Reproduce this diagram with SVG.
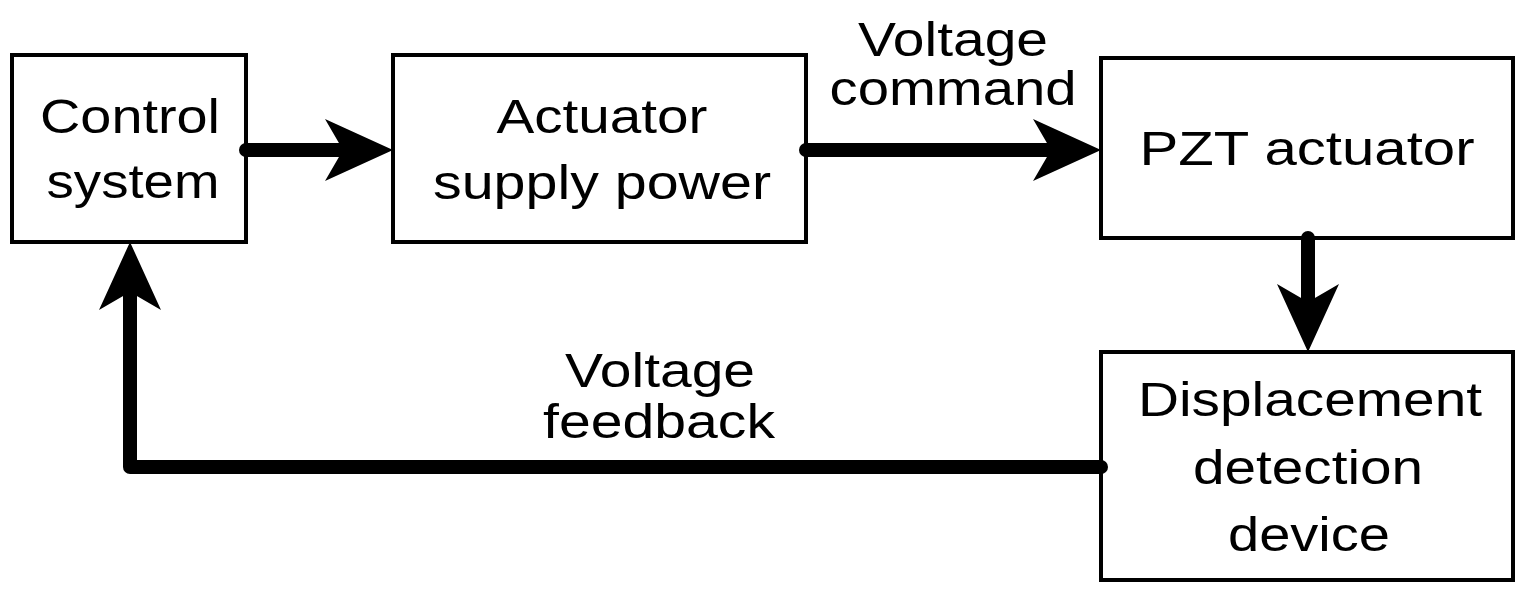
<svg xmlns="http://www.w3.org/2000/svg" xmlns:xlink="http://www.w3.org/1999/xlink" width="1534" height="600" viewBox="0 0 1534 600">
<style>
.box{fill:#fff;stroke:#000;stroke-width:4}
.t{font-family:"Liberation Sans",Arial,sans-serif;font-size:48px;text-anchor:middle;fill:#000}
.ln{stroke:#000;stroke-width:14;fill:none;stroke-linejoin:round}
</style>
<defs>
<path id="ah" d="M0,0 L-68,-31 L-50,0 L-68,31 Z" fill="#000"/>
</defs>
<rect width="1534" height="600" fill="#fff"/>
<g id="control">
<rect class="box" x="12" y="55" width="234" height="187"/>
<text class="t" x="130" y="133" textLength="180" lengthAdjust="spacingAndGlyphs">Control</text>
<text class="t" x="133" y="198" textLength="173" lengthAdjust="spacingAndGlyphs">system</text>
</g>
<g id="supply">
<rect class="box" x="393" y="55" width="413" height="187"/>
<text class="t" x="602" y="133" textLength="211" lengthAdjust="spacingAndGlyphs">Actuator</text>
<text class="t" x="602" y="199" textLength="338" lengthAdjust="spacingAndGlyphs">supply power</text>
</g>
<g id="pzt">
<rect class="box" x="1101" y="58" width="412" height="180"/>
<text class="t" x="1307" y="165" textLength="335" lengthAdjust="spacingAndGlyphs">PZT actuator</text>
</g>
<g id="detect">
<rect class="box" x="1101" y="352" width="412" height="228"/>
<text class="t" x="1310" y="416" textLength="344" lengthAdjust="spacingAndGlyphs">Displacement</text>
<text class="t" x="1308" y="484" textLength="230" lengthAdjust="spacingAndGlyphs">detection</text>
<text class="t" x="1309" y="551" textLength="162" lengthAdjust="spacingAndGlyphs">device</text>
</g>
<g id="connectors">
<line class="ln" x1="246" y1="150" x2="345" y2="150"/>
<use xlink:href="#ah" transform="translate(393,150)"/>
<circle cx="246" cy="150" r="7"/>
<line class="ln" x1="806" y1="150" x2="1053" y2="150"/>
<use xlink:href="#ah" transform="translate(1101,150)"/>
<circle cx="806" cy="150" r="7"/>
<line class="ln" x1="1308" y1="238" x2="1308" y2="304"/>
<use xlink:href="#ah" transform="translate(1308,352) rotate(90)"/>
<circle cx="1308" cy="238" r="7"/>
<polyline class="ln" points="1101,467 130,467 130,290"/>
<use xlink:href="#ah" transform="translate(130,242) rotate(-90)"/>
<circle cx="1101" cy="467" r="7"/>
<text class="t" x="953" y="56" textLength="190" lengthAdjust="spacingAndGlyphs">Voltage</text>
<text class="t" x="953" y="105" textLength="247" lengthAdjust="spacingAndGlyphs">command</text>
<text class="t" x="660" y="387" textLength="190" lengthAdjust="spacingAndGlyphs">Voltage</text>
<text class="t" x="659" y="438" textLength="232" lengthAdjust="spacingAndGlyphs">feedback</text>
</g>
</svg>
